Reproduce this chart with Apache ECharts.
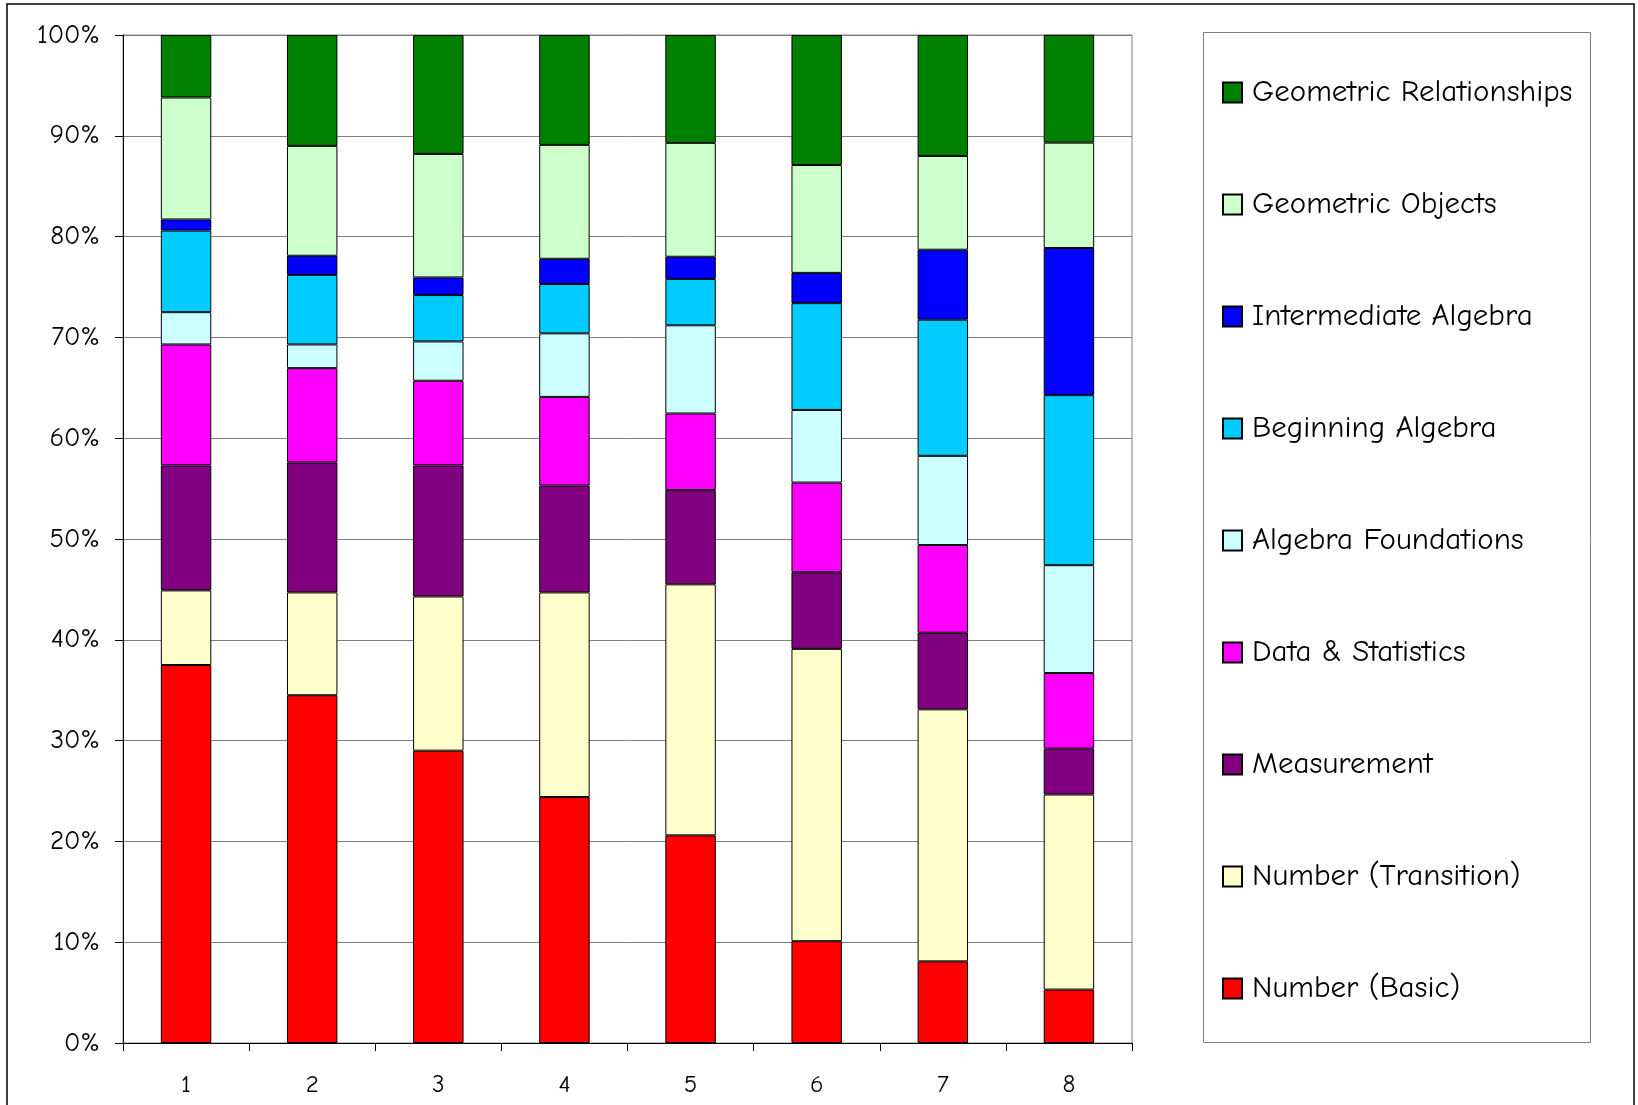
<!DOCTYPE html>
<html>
<head>
<meta charset="utf-8">
<script src="https://cdn.jsdelivr.net/npm/echarts@6/dist/echarts.min.js"></script>
<style>
  html, body { margin: 0; padding: 0; background: #fff; }
  #chart { width: 1638px; height: 1105px; }
</style>
</head>
<body>
<div id="chart"></div>
<script>
// Grade levels along the x axis
const grades = ['1', '2', '3', '4', '5', '6', '7', '8'];

// Share of items per strand, in percent (stacked bottom to top)
const numberBasic        = [37.5, 34.5, 29.0, 24.4, 20.6, 10.1,  8.1,  5.3];
const numberTransition   = [ 7.4, 10.2, 15.3, 20.3, 24.9, 29.0, 25.0, 19.35];
const measurement        = [12.4, 12.9, 13.0, 10.6,  9.35, 7.6,  7.6,  4.55];
const dataStatistics     = [12.0,  9.35, 8.4,  8.8,  7.6,  8.9,  8.7,  7.5];
const algebraFoundations = [ 3.2,  2.35, 3.9,  6.3,  8.75, 7.2,  8.85, 10.7];
const beginningAlgebra   = [ 8.1,  6.9,  4.6,  4.9,  4.6, 10.6, 13.5, 16.87];
const intermediateAlgebra= [ 1.1,  1.9,  1.75, 2.5,  2.2,  3.0,  6.95, 14.6];
const geometricObjects   = [12.1, 10.9, 12.25, 11.3, 11.3, 10.7, 9.3, 10.45];
const geometricRelations = [ 6.2, 11.0, 11.8, 10.9, 10.7, 12.9, 12.0, 10.7];

const yTicks = { min: 0, max: 100, step: 10 };

const strands = [
  { name: 'Number (Basic)',          data: numberBasic,         color: '#FF0000' },
  { name: 'Number (Transition)',     data: numberTransition,    color: '#FFFFCC' },
  { name: 'Measurement',             data: measurement,         color: '#800080' },
  { name: 'Data & Statistics',       data: dataStatistics,      color: '#FF00FF' },
  { name: 'Algebra Foundations',     data: algebraFoundations,  color: '#CCFFFF' },
  { name: 'Beginning Algebra',       data: beginningAlgebra,    color: '#00CCFF' },
  { name: 'Intermediate Algebra',    data: intermediateAlgebra, color: '#0000FF' },
  { name: 'Geometric Objects',       data: geometricObjects,    color: '#CCFFCC' },
  { name: 'Geometric Relationships', data: geometricRelations,  color: '#008000' }
];

const FONT = "'Comic Sans MS', 'Comic Neue', 'Noto Sans', sans-serif";

const chart = echarts.init(document.getElementById('chart'), null, { renderer: 'canvas' });

chart.setOption({
  backgroundColor: '#ffffff',
  animation: false,
  textStyle: { fontFamily: FONT, color: '#000' },
  grid: {
    left: 123, top: 35, width: 1009, height: 1008,
    show: true, borderColor: '#808080', borderWidth: 1, backgroundColor: '#ffffff'
  },
  legend: {
    orient: 'vertical',
    left: 1222, top: 77,
    padding: 0,
    icon: 'rect',
    itemWidth: 19, itemHeight: 20, itemGap: 81,
    data: strands.map(s => s.name).reverse(),
    textStyle: { fontFamily: FONT, fontSize: 31, color: '#000', padding: [0, 0, 0, 5] },
    selectedMode: false
  },
  xAxis: {
    type: 'category',
    data: grades,
    axisLine: { lineStyle: { color: '#000', width: 1 } },
    axisTick: { show: true, length: 8, inside: false, lineStyle: { color: '#000' } },
    axisLabel: { fontFamily: FONT, fontSize: 25, color: '#000', margin: 29 },
    splitLine: { show: false }
  },
  yAxis: {
    type: 'value',
    min: yTicks.min, max: yTicks.max, interval: yTicks.step,
    axisLine: { show: true, lineStyle: { color: '#000', width: 1 } },
    axisTick: { show: true, length: 8, lineStyle: { color: '#000' } },
    axisLabel: { fontFamily: FONT, fontSize: 27, color: '#000', margin: 23, formatter: '{value}%' },
    splitLine: { show: true, lineStyle: { color: '#808080', width: 1 } }
  },
  series: strands.map(s => ({
    name: s.name,
    type: 'bar',
    stack: 'total',
    barWidth: '40%',
    data: s.data,
    itemStyle: { color: s.color, borderColor: '#000', borderWidth: 1 }
  })),
  graphic: [
    // legend frame
    {
      type: 'rect',
      shape: { x: 1203.5, y: 32.5, width: 387, height: 1010 },
      style: { fill: 'none', stroke: '#808080', lineWidth: 1 },
      z: -1
    },
    // outer chart frame
    {
      type: 'rect',
      shape: { x: 7, y: 4, width: 1627, height: 1200 },
      style: { fill: 'none', stroke: '#000', lineWidth: 1.5 },
      z: 10
    }
  ]
});
</script>
</body>
</html>
